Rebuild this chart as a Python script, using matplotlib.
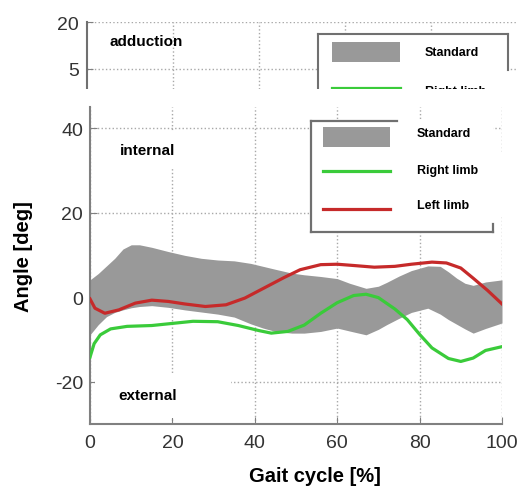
import matplotlib
matplotlib.use("Agg")
import matplotlib.pyplot as plt
from matplotlib.patches import Rectangle
from matplotlib.lines import Line2D

plt.rcParams['font.family'] = ['Liberation Sans', 'DejaVu Sans']
plt.rcParams['axes.unicode_minus'] = False

# Standard band (gray)
band_x = [0, 2, 4, 6, 8, 10, 12, 15, 19, 23, 27, 31, 35, 39, 42, 45, 49, 52, 56, 60,
          63, 67, 70, 72, 75, 78, 82, 85, 87, 89, 91, 93, 96, 100]
band_upper = [4.1, 5.6, 7.4, 9.2, 11.4, 12.4, 12.4, 11.8, 10.8, 9.9, 9.2, 8.8, 8.6, 8.0,
              7.3, 6.6, 5.7, 5.3, 4.9, 4.4, 3.3, 2.1, 2.6, 3.5, 5.0, 6.3, 7.4, 7.3, 6.0,
              4.5, 3.3, 2.8, 3.6, 4.1]
band_lower = [-8.9, -6.5, -4.6, -3.6, -3.0, -2.5, -2.2, -2.0, -2.4, -3.0, -3.5, -4.0, -4.7,
              -6.3, -7.3, -8.1, -8.5, -8.5, -8.1, -7.3, -8.0, -8.9, -7.6, -6.5, -5.0, -3.6,
              -2.6, -4.0, -5.3, -6.4, -7.5, -8.5, -7.4, -6.1]

# Right limb (green)
right_x = [0, 1, 2.5, 5, 9, 15, 20, 25, 31, 36, 41, 44, 48, 52, 56, 60, 64, 67, 70, 74,
           77, 80, 83, 87, 90, 93, 96, 100]
right_y = [-14.2, -11.0, -8.9, -7.5, -6.9, -6.7, -6.2, -5.7, -5.8, -6.7, -7.9, -8.5, -8.1,
           -6.6, -3.8, -1.3, 0.4, 0.7, -0.1, -2.8, -5.3, -8.8, -12.0, -14.5, -15.2, -14.4,
           -12.6, -11.7]

# Left limb (red)
left_x = [0, 1.2, 3.6, 7, 11, 15, 19, 23, 28, 33, 37.6, 42.5, 47, 51, 56, 60, 64, 69, 74,
          78, 83, 86.5, 90, 93, 96.5, 100]
left_y = [-0.4, -2.6, -3.8, -3.0, -1.4, -0.7, -1.0, -1.6, -2.2, -1.8, -0.2, 2.3, 4.6, 6.5,
          7.7, 7.8, 7.5, 7.1, 7.3, 7.8, 8.3, 8.1, 6.9, 4.5, 1.6, -1.6]

x_ticks = [0, 20, 40, 60, 80, 100]
y_ticks = [-20, 0, 20, 40]
top_y_ticks = [5, 20]
legend_labels = ["Standard", "Right limb", "Left limb"]

GRAY = "#999999"
GREEN = "#3acb3a"
RED = "#c62a2a"
SPINE = "#808080"
GRID = dict(color="#a8a8a8", linestyle=":", linewidth=1.0)

W, H = 520, 489
fig = plt.figure(figsize=(W / 100, H / 100), dpi=100)


def fx(px):
    return px / W


def fy(py):
    return 1 - py / H


# ---- partial upper panel (cut off by the lower one) ----
ax_top = fig.add_axes([fx(87), fy(90), 430 / W, 67 / H], zorder=0)
ax_top.set_xlim(0, 100)
ax_top.set_ylim(-1.4, 20)
ax_top.set_xticks([20, 40, 60, 80])
ax_top.set_yticks(top_y_ticks)
ax_top.grid(True, **GRID)
ax_top.set_axisbelow(True)
for s in ["top", "right", "bottom"]:
    ax_top.spines[s].set_visible(False)
ax_top.spines["left"].set_color("#707070")
ax_top.spines["left"].set_linewidth(1.5)
ax_top.tick_params(axis="x", length=0, labelbottom=False)
ax_top.tick_params(axis="y", direction="in", length=4, color=SPINE,
                   labelsize=14, labelcolor="#333333", pad=6)
ax_top.text(5.3, 13.9, "adduction", fontsize=11, fontweight="bold", va="center")

# legend of the upper panel (only its top part shows)
ax_top.add_patch(Rectangle((53.7, -6), 44.2, 22.2, facecolor="white", edgecolor="none",
                           zorder=1, clip_on=False))
ax_top.add_line(Line2D([53.7, 97.9], [16.2, 16.2], color="#707070", lw=1.5, clip_on=False, zorder=2))
ax_top.add_line(Line2D([53.7, 53.7], [16.2, -6], color="#707070", lw=1.5, clip_on=False, zorder=2))
ax_top.add_line(Line2D([97.9, 97.9], [16.2, 4.6], color="#707070", lw=1.5, clip_on=False, zorder=2))
ax_top.add_patch(Rectangle((57, 7.2), 15.8, 6.4, facecolor=GRAY, edgecolor="none", zorder=3))
ax_top.add_line(Line2D([57, 72.8], [-1.2, -1.2], color=GREEN, lw=2.3, clip_on=False, zorder=3))
ax_top.text(78.6, 10.4, legend_labels[0], fontsize=9, fontweight="bold", va="center", zorder=3)
ax_top.text(78.6, -2.0, legend_labels[1], fontsize=9, fontweight="bold", va="center",
            zorder=3, clip_on=False)

# white cover for everything below the cut
fig.add_artist(Rectangle((0, 0), 1, fy(90), transform=fig.transFigure,
                         facecolor="white", edgecolor="none", zorder=1))

# ---- main panel ----
ax = fig.add_axes([fx(90), fy(425), 412 / W, 317 / H], zorder=2)
ax.set_xlim(0, 100)
ax.set_ylim(-30, 45)
ax.set_xticks(x_ticks)
ax.set_yticks(y_ticks)
ax.grid(True, **GRID)
ax.set_axisbelow(True)
for s in ["top", "right"]:
    ax.spines[s].set_visible(False)
for s in ["left", "bottom"]:
    ax.spines[s].set_color(SPINE)
    ax.spines[s].set_linewidth(1.5)
ax.tick_params(direction="in", length=5, color=SPINE, labelsize=14, labelcolor="#333333")
ax.tick_params(axis="x", pad=7)
ax.tick_params(axis="y", pad=5)

ax.fill_between(band_x, band_lower, band_upper, color=GRAY, linewidth=0, zorder=2)
ax.plot(right_x, right_y, color=GREEN, lw=2.3, zorder=3)
ax.plot(left_x, left_y, color=RED, lw=2.3, zorder=3)

# white label boxes
ax.add_patch(Rectangle((1, 30.5), 37, 8.8, facecolor="white", edgecolor="none", zorder=1))
ax.add_patch(Rectangle((1.2, -28.6), 33, 10.1, facecolor="white", edgecolor="none", zorder=1))
ax.text(7.3, 34.8, "internal", fontsize=11, fontweight="bold", va="center", zorder=4)
ax.text(7.0, -23.2, "external", fontsize=11, fontweight="bold", va="center", zorder=4)

# legend drawn in axes fraction
T = ax.transAxes
ax.add_patch(Rectangle((0.5364, 0.6057), 0.4416, 0.3501, transform=T, facecolor="white",
                       edgecolor="none", zorder=4))
ax.add_patch(Rectangle((0.978, 0.656), 0.047, 0.202, transform=T, facecolor="white",
                       edgecolor="none", zorder=4, clip_on=False))
frame = dict(transform=T, color="#707070", lw=1.6, zorder=5, clip_on=False)
ax.add_line(Line2D([0.5364, 0.745], [0.9558, 0.9558], **frame))
ax.add_line(Line2D([0.5364, 0.5364], [0.9558, 0.6057], **frame))
ax.add_line(Line2D([0.5364, 0.978], [0.6057, 0.6057], **frame))
ax.add_line(Line2D([0.978, 0.978], [0.6057, 0.631], **frame))
ax.add_patch(Rectangle((0.5655, 0.874), 0.1625, 0.063, transform=T, facecolor=GRAY,
                       edgecolor="none", zorder=5))
ax.add_line(Line2D([0.5655, 0.728], [0.798, 0.798], transform=T, color=GREEN, lw=2.3, zorder=5))
ax.add_line(Line2D([0.5655, 0.728], [0.678, 0.678], transform=T, color=RED, lw=2.3, zorder=5))
for yy, lab in zip([0.918, 0.801, 0.691], legend_labels):
    ax.text(0.794, yy, lab, transform=T, fontsize=9, fontweight="bold", va="center", zorder=6)

ax.set_xlabel("Gait cycle [%]", fontsize=14.5, fontweight="bold")
ax.set_ylabel("Angle [deg]", fontsize=14.5, fontweight="bold")
ax.xaxis.set_label_coords(0.546, -0.132)
ax.yaxis.set_label_coords(-0.138, 0.53)

fig.savefig("out.png", dpi=100)
